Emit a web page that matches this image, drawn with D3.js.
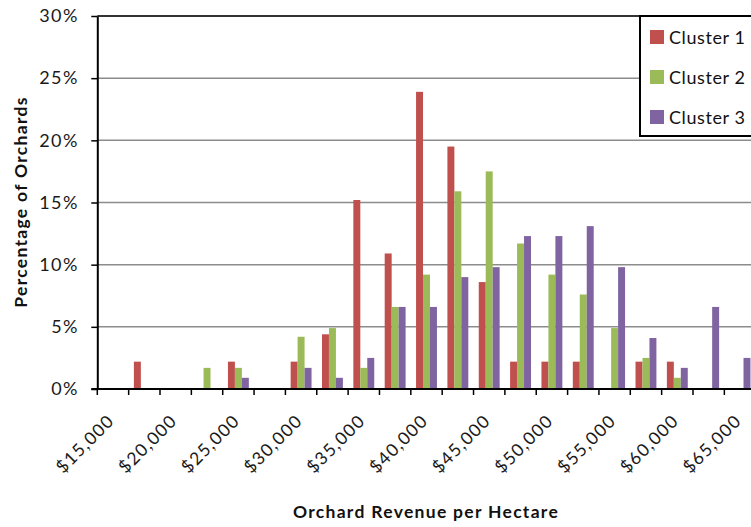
<!DOCTYPE html>
<html>
<head>
<meta charset="utf-8">
<script src="https://cdn.jsdelivr.net/npm/d3@7"></script>
<style>
  html, body { margin: 0; padding: 0; background: #fff; }
  svg { display: block; font-family: Lato, "Open Sans", sans-serif; }
</style>
</head>
<body>
<svg id="chart" width="751" height="527"></svg>
<script>
// ---- data ----
const categories = ["$15,000","$17,500","$20,000","$22,500","$25,000","$27,500","$30,000","$32,500",
  "$35,000","$37,500","$40,000","$42,500","$45,000","$47,500","$50,000","$52,500","$55,000",
  "$57,500","$60,000","$62,500","$65,000"];
const seriesNames = ["Cluster 1","Cluster 2","Cluster 3"];
const cluster1 = [0,2.2,0,0,2.2,0,2.2,4.4,15.2,10.9,23.9,19.5,8.6,2.2,2.2,2.2,0,2.2,2.2,0,0];
const cluster2 = [0,0,0,1.7,1.7,0,4.2,4.9,1.7,6.6,9.2,15.9,17.5,11.7,9.2,7.6,4.9,2.5,0.9,0,0];
const cluster3 = [0,0,0,0,0.9,0,1.7,0.9,2.5,6.6,6.6,9.0,9.8,12.3,12.3,13.1,9.8,4.1,1.7,6.6,2.5];
const yTicks = [0,5,10,15,20,25,30];
const xLabels = ["$15,000","$20,000","$25,000","$30,000","$35,000","$40,000","$45,000","$50,000","$55,000","$60,000","$65,000"];
const colors = ["#C0504D","#9BBB59","#8064A2"];

// ---- layout ----
const svg = d3.select("#chart");
const mLeft = 97.3, mRight = 755.7, mTop = 16, mBottom = 389;
const seriesData = [cluster1, cluster2, cluster3];

const x = d3.scaleBand().domain(categories).range([mLeft, mRight]).paddingInner(0).paddingOuter(0);
const xs = d3.scaleBand().domain(seriesNames).range([0, x.bandwidth()]).paddingInner(0).paddingOuter(0.75);
const y = d3.scaleLinear().domain([0, 30]).range([mBottom, mTop]);

// gridlines
svg.append("g").selectAll("line").data(yTicks.filter(d => d > 0)).join("line")
  .attr("x1", mLeft).attr("x2", 751)
  .attr("y1", d => y(d)).attr("y2", d => y(d))
  .attr("stroke", d => d === 30 ? "#333" : "#8c8c8c")
  .attr("stroke-width", d => d === 30 ? 1.8 : 1.5);

// bars
const rows = categories.map((c, i) => ({cat: c, vals: seriesData.map(s => s[i])}));
const groups = svg.append("g").selectAll("g").data(rows).join("g")
  .attr("transform", d => `translate(${x(d.cat)},0)`);
groups.selectAll("rect").data(d => d.vals.map((v, k) => ({v, k})).filter(e => e.v > 0)).join("rect")
  .attr("x", e => xs(seriesNames[e.k]))
  .attr("width", xs.bandwidth())
  .attr("y", e => y(e.v))
  .attr("height", e => y(0) - y(e.v))
  .attr("fill", e => colors[e.k]);

// y axis
const yAxis = svg.append("g").attr("transform", `translate(${mLeft},0)`)
  .call(d3.axisLeft(y).tickValues(yTicks).tickFormat(d => d + "%").tickSize(6).tickSizeOuter(0));
yAxis.select(".domain").attr("stroke", "#000").attr("stroke-width", 2);
yAxis.selectAll(".tick line").attr("stroke", "#000").attr("stroke-width", 1.5);
yAxis.selectAll(".tick text").attr("font-size", 18).attr("fill", "#1a1a1a")
  .attr("letter-spacing", 1.4)
  .attr("x", -18.5).attr("font-family", "Lato, sans-serif");

// x axis line
svg.append("line").attr("x1", mLeft - 6).attr("x2", 751).attr("y1", mBottom).attr("y2", mBottom)
  .attr("stroke", "#000").attr("stroke-width", 2);
// x tick marks at category boundaries
const boundaries = categories.map(c => x(c)).concat([mRight]);
svg.append("g").selectAll("line").data(boundaries).join("line")
  .attr("x1", d => d).attr("x2", d => d).attr("y1", mBottom).attr("y2", mBottom + 6)
  .attr("stroke", "#000").attr("stroke-width", 1.5);
// x labels
svg.append("g").selectAll("text").data(xLabels).join("text")
  .attr("transform", d => `translate(${x(d) + x.bandwidth() / 2 + 2.5},${mBottom + 33}) rotate(-45)`)
  .attr("text-anchor", "end")
  .attr("font-size", 17.5).attr("letter-spacing", 1.3).attr("fill", "#1a1a1a")
  .text(d => d);

// axis titles
svg.append("text").attr("x", 426).attr("y", 518).attr("text-anchor", "middle")
  .attr("font-size", 17.5).attr("letter-spacing", 1.3).attr("font-weight", "bold").attr("fill", "#111")
  .text("Orchard Revenue per Hectare");
svg.append("text").attr("transform", "translate(27,202) rotate(-90)").attr("text-anchor", "middle")
  .attr("font-size", 17.5).attr("letter-spacing", 1.3).attr("font-weight", "bold").attr("fill", "#111")
  .text("Percentage of Orchards");

// legend
const lg = svg.append("g");
lg.append("rect").attr("x", 640).attr("y", 16).attr("width", 120).attr("height", 120)
  .attr("fill", "#fff").attr("stroke", "#000").attr("stroke-width", 2);
const items = lg.selectAll("g").data(seriesNames).join("g")
  .attr("transform", (d, i) => `translate(650,${30 + i * 40})`);
items.append("rect").attr("width", 14).attr("height", 14).attr("fill", (d, i) => colors[i]);
items.append("text").attr("x", 19).attr("y", 14).attr("font-size", 18).attr("letter-spacing", 0.6)
  .attr("fill", "#111").text(d => d);
</script>
</body>
</html>
